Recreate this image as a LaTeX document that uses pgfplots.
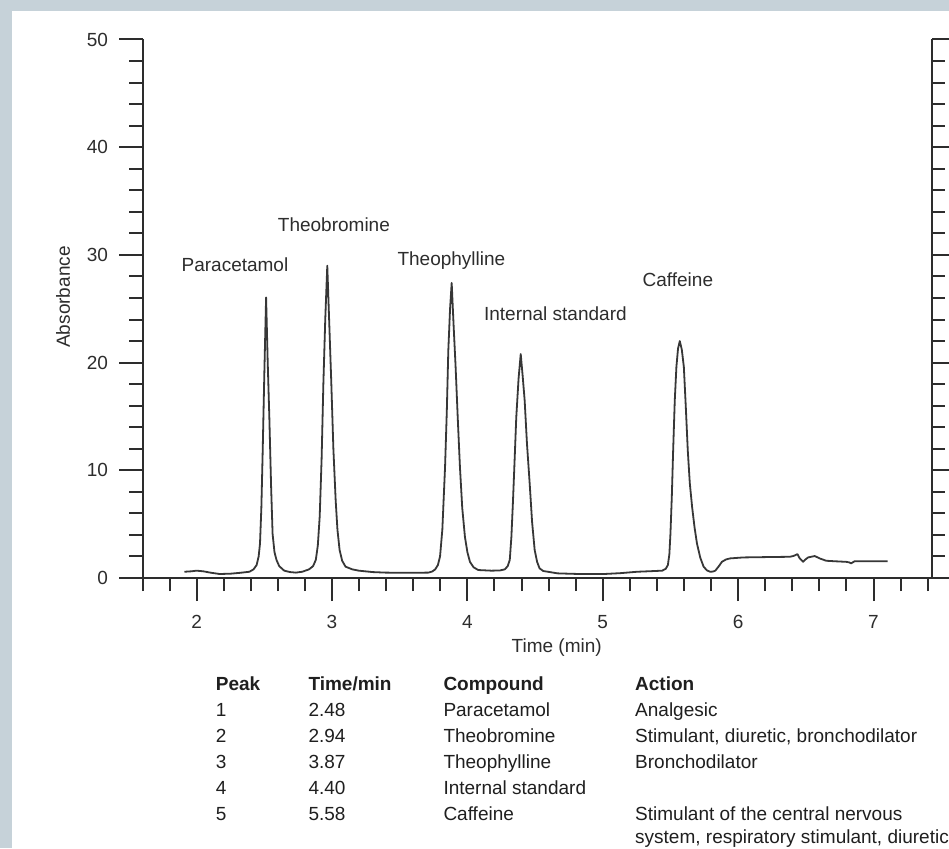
\documentclass[border=0pt]{standalone}
\usepackage{pgfplots}
\pgfplotsset{compat=1.18}
\usepackage{fontspec}
\setmainfont{Liberation Sans}
\definecolor{bgcol}{RGB}{198,210,217}
\definecolor{ink}{RGB}{45,45,45}
\definecolor{curve}{RGB}{55,55,55}
\newcommand{\tf}{\fontsize{19}{22}\selectfont}
\begin{document}
\begin{tikzpicture}
\path[use as bounding box] (0,0) rectangle (949pt,848pt);
\clip (0,0) rectangle (949pt,848pt);
\fill[bgcol] (0,0) rectangle (949pt,848pt);
\fill[white] (12pt,0) rectangle (949pt,837pt);
\pgfplotsset{common/.style={at={(142.5pt,270pt)}, anchor=south west, scale only axis,
  width=789.2pt, height=538.5pt, xmin=1.6, xmax=7.43, ymin=0, ymax=50, clip=false,
  tick align=outside, major tick length=23pt, minor tick length=13pt,
  every tick/.style={line width=2pt, ink},
  axis line style={line width=2pt, ink},
  ytick={0,10,20,30,40,50}, minor y tick num=4,
  tick label style={font=\tf, text=ink},
  xticklabel shift=11pt, yticklabel shift=8pt,
  /pgf/number format/assume math mode=true}}
\begin{axis}[common, axis x line*=bottom, axis y line*=left,
  xtick={2,3,4,5,6,7},
  minor xtick={1.6,1.8,2.2,2.4,2.6,2.8,3.2,3.4,3.6,3.8,4.2,4.4,4.6,4.8,5.2,5.4,5.6,5.8,6.2,6.4,6.6,6.8,7.2,7.4}]
\addplot[curve, line width=1.8pt, line join=round] coordinates {
(1.91,0.58)(1.96,0.62)(2.00,0.68)(2.05,0.62)(2.10,0.5)(2.17,0.37)(2.25,0.4)(2.32,0.48)
(2.39,0.58)(2.42,0.8)(2.443,1.2)(2.458,2.0)(2.468,3.2)(2.478,6.5)(2.488,11.85)(2.50,19.0)
(2.513,26.05)(2.525,20.0)(2.537,14.9)(2.55,8.5)(2.561,4.1)(2.575,2.4)(2.59,1.67)(2.61,1.1)
(2.647,0.68)(2.69,0.55)(2.733,0.5)(2.78,0.58)(2.83,0.8)(2.86,1.1)(2.88,1.67)(2.895,3.0)
(2.909,5.7)(2.923,11.0)(2.936,18.0)(2.95,24.0)(2.965,29.0)(2.98,23.5)(2.995,18.0)(3.01,12.0)
(3.027,7.2)(3.04,4.5)(3.056,2.6)(3.075,1.6)(3.1,1.05)(3.15,0.8)(3.198,0.68)(3.3,0.55)
(3.394,0.5)(3.55,0.48)(3.712,0.5)(3.74,0.6)(3.762,0.8)(3.782,1.2)(3.798,2.0)(3.815,4.5)
(3.835,10.3)(3.848,15.5)(3.859,21.1)(3.872,25.0)(3.884,27.4)(3.898,23.5)(3.913,19.6)(3.93,14.5)
(3.945,10.3)(3.962,6.5)(3.982,3.8)(4.0,2.4)(4.019,1.5)(4.045,1.0)(4.08,0.74)(4.177,0.68)
(4.24,0.7)(4.276,0.8)(4.298,1.1)(4.313,1.67)(4.325,3.8)(4.337,7.2)(4.349,11.0)(4.361,14.9)
(4.378,18.5)(4.394,20.8)(4.408,18.8)(4.423,16.5)(4.44,12.5)(4.46,8.8)(4.478,5.2)(4.497,2.6)
(4.515,1.5)(4.533,0.9)(4.56,0.65)(4.594,0.58)(4.667,0.43)(4.8,0.38)(5.01,0.37)(5.13,0.45)
(5.255,0.58)(5.35,0.63)(5.439,0.68)(5.465,0.85)(5.481,1.2)(5.492,2.2)(5.5,4.1)(5.51,7.5)
(5.52,11.85)(5.532,16.5)(5.544,19.6)(5.556,21.3)(5.569,22.0)(5.584,21.2)(5.599,19.6)(5.613,16.0)
(5.628,11.85)(5.643,8.8)(5.66,6.6)(5.678,4.7)(5.696,3.2)(5.72,1.9)(5.745,1.05)(5.77,0.7)
(5.794,0.58)(5.815,0.6)(5.831,0.68)(5.855,1.05)(5.88,1.5)(5.91,1.72)(5.941,1.82)(6.04,1.91)
(6.2,1.94)(6.382,1.97)(6.41,2.05)(6.438,2.22)(6.455,1.82)(6.48,1.5)(6.5,1.75)(6.517,1.91)
(6.566,2.04)(6.602,1.82)(6.651,1.6)(6.72,1.55)(6.798,1.5)(6.82,1.45)(6.835,1.36)(6.86,1.55)
(7.105,1.55)};
\node[anchor=base, font=\tf, text=ink] at (axis cs:2.283,28.42) {Paracetamol};
\node[anchor=base, font=\tf, text=ink] at (axis cs:3.014,32.14) {Theobromine};
\node[anchor=base, font=\tf, text=ink] at (axis cs:3.882,28.98) {Theophylline};
\node[anchor=base, font=\tf, text=ink] at (axis cs:4.650,23.87) {Internal standard};
\node[anchor=base, font=\tf, text=ink] at (axis cs:5.555,27.03) {Caffeine};
\end{axis}
\begin{axis}[common, axis y line*=right, axis x line=none, yticklabels={}]
\end{axis}
\node[rotate=90, font=\tf, text=ink] at (63pt,551pt) {Absorbance};
\node[font=\tf, text=ink] at (556.7pt,200pt) {Time (min)};
% table
\begin{scope}[every node/.style={anchor=base west, font=\tf, text=black!88, inner sep=0pt}]
\node[font=\tf\bfseries] at (215.7pt,157.3pt) {Peak};
\node[font=\tf\bfseries] at (308.3pt,157.3pt) {Time/min};
\node[font=\tf\bfseries] at (443.3pt,157.3pt) {Compound};
\node[font=\tf\bfseries] at (635pt,157.3pt) {Action};
\node at (215.7pt,131.3pt) {1};
\node at (308.3pt,131.3pt) {2.48};
\node at (443.3pt,131.3pt) {Paracetamol};
\node at (635pt,131.3pt) {Analgesic};
\node at (215.7pt,105.5pt) {2};
\node at (308.3pt,105.5pt) {2.94};
\node at (443.3pt,105.5pt) {Theobromine};
\node at (635pt,105.5pt) {Stimulant, diuretic, bronchodilator};
\node at (215.7pt,79.7pt) {3};
\node at (308.3pt,79.7pt) {3.87};
\node at (443.3pt,79.7pt) {Theophylline};
\node at (635pt,79.7pt) {Bronchodilator};
\node at (215.7pt,53.8pt) {4};
\node at (308.3pt,53.8pt) {4.40};
\node at (443.3pt,53.8pt) {Internal standard};
\node at (215.7pt,28pt) {5};
\node at (308.3pt,28pt) {5.58};
\node at (443.3pt,28pt) {Caffeine};
\node at (635pt,28pt) {Stimulant of the central nervous};
\node at (635pt,4.5pt) {system, respiratory stimulant, diuretic};
\end{scope}
\end{tikzpicture}
\end{document}
